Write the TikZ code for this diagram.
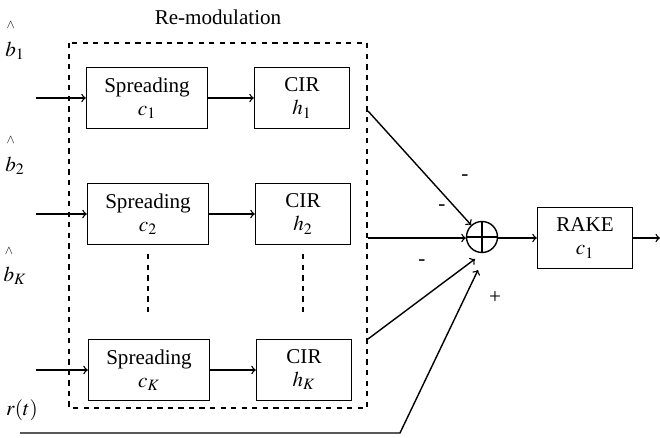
\documentclass[tikz,border=0pt]{standalone}
\usepackage{amsmath}
\usepackage{mathptmx}
\usepackage{fontspec}
\setmainfont{Liberation Serif}
\usetikzlibrary{calc}

\tikzset{
    block/.style={draw, thick, minimum height=1.22cm, align=center, inner sep=1pt},
    sumnode/.style={draw, thick, circle, minimum size=0.62cm, inner sep=0pt,
        path picture={
            \draw[thick] (path picture bounding box.north) -- (path picture bounding box.south);
            \draw[thick] (path picture bounding box.west) -- (path picture bounding box.east);
        }},
    sig/.style={->, thick},
}
\newcommand{\bhat}[1]{$\overset{\raisebox{5pt}{$\scriptscriptstyle\wedge$}}{b}_{#1}$}

\begin{document}
\begin{tikzpicture}[x=0.02cm, y=-0.02cm, font=\fontsize{12}{13}\selectfont]
    \useasboundingbox (0,0) rectangle (660,438);

    % Define the corners of the re-modulation frame
    \coordinate (F1) at (69,43);
    \coordinate (F2) at (367,408);

    % Place the blocks
    \node[block, minimum width=2.42cm] (S1) at (147,98) {Spreading\\$c_1$};
    \node[block, minimum width=1.9cm] (H1) at (302,98) {CIR\\$h_1$};
    \node[block, minimum width=2.42cm] (S2) at (148,214) {Spreading\\$c_2$};
    \node[block, minimum width=1.9cm] (H2) at (303,214) {CIR\\$h_2$};
    \node[block, minimum width=2.42cm] (SK) at (149,370) {Spreading\\$c_K$};
    \node[block, minimum width=1.9cm] (HK) at (304,370) {CIR\\$h_K$};
    \node[sumnode] (sum) at (482,237) {};
    \node[block, minimum width=1.9cm] (rake) at (585,238) {RAKE\\$c_1$};

    % Define the free ends of the lines
    \coordinate (I1) at (36,98);
    \coordinate (I2) at (36,214);
    \coordinate (IK) at (36,370);
    \coordinate (O1) at (368,111);
    \coordinate (O2) at (368,238);
    \coordinate (OK) at (368,339);
    \coordinate (EK) at (475,259);
    \coordinate (R0) at (20,433);
    \coordinate (R1) at (400,433);
    \coordinate (ER) at (478,270);
    \coordinate (out) at (660,238);

    % Draw the frame and the dots between the rows
    \draw[dashed, thick] (F1) rectangle (F2);
    \draw[dashed, thick] (S2.south) ++(0,9) -- ++(0,58);
    \draw[dashed, thick] (H2.south) ++(0,9) -- ++(0,58);

    % Draw the signal flow
    \draw[sig] (I1) -- (S1);
    \draw[sig] (I2) -- (S2);
    \draw[sig] (IK) -- (SK);
    \draw[sig] (S1) -- (H1);
    \draw[sig] (S2) -- (H2);
    \draw[sig] (SK) -- (HK);
    \draw[sig] (O1) -- (sum);
    \draw[sig] (O2) -- (O2 -| sum.west);
    \draw[sig] (OK) -- (EK);
    \draw[sig] (R0) -- (R1) -- (ER);
    \draw[sig] (sum.east |- rake.west) -- (rake.west);
    \draw[sig] (rake.east) -- (out);

    % Place the labels
    \node at (218,17) {Re-modulation};
    \node at (15,40) {\bhat{1}};
    \node at (15,155) {\bhat{2}};
    \node at (15,265) {\bhat{K}};
    \node at (22,410) {$r(t)$};
    \node at (465,178) {-};
    \node at (442,208) {-};
    \node at (422,263) {-};
    \node at (495,298) {+};

\end{tikzpicture}
\end{document}
